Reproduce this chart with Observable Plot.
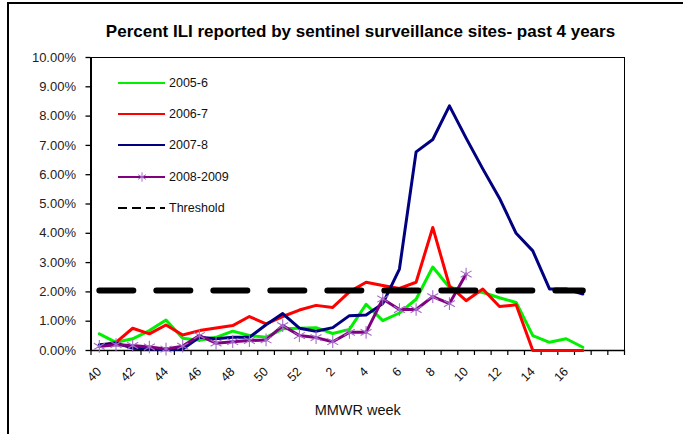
<!DOCTYPE html>
<html>
<head>
<meta charset="utf-8">
<script src="https://cdn.jsdelivr.net/npm/d3@7"></script>
<script src="https://cdn.jsdelivr.net/npm/@observablehq/plot@0.6"></script>
<style>
  html, body { margin: 0; padding: 0; background: #fff; }
  #wrap { position: relative; width: 683px; height: 434px; overflow: hidden; font-family: "Liberation Sans", Arial, sans-serif; }
  #border { position: absolute; left: 7px; top: 2px; width: 720px; height: 480px; border-left: 2px solid #000; border-top: 2px solid #000; }
  #title { position: absolute; left: 0; width: 721px; top: 22px; text-align: center; font-weight: bold; font-size: 17px; color: #000; }
  #chart { position: absolute; left: 0; top: 0; }
  #legend { position: absolute; left: 0; top: 0; }
</style>
</head>
<body>
<div id="wrap">
  <div id="border"></div>
  <div id="chart"></div>
  <div id="title">Percent ILI reported by sentinel surveillance sites- past 4 years</div>
  <div id="legend"></div>
</div>
<script>
// MMWR week categories (axis)
const weeks = ["40","41","42","43","44","45","46","47","48","49","50","51","52",
               "1","2","3","4","5","6","7","8","9","10","11","12","13","14","15","16","17","18","19"];
// Tick labels shown on the axis
const tickLabels = ["40","42","44","46","48","50","52","2","4","6","8","10","12","14","16"];
const yTicks = [0,1,2,3,4,5,6,7,8,9,10];

// Series values (percent ILI), starting at week 40
const s2005 = [0.57,0.28,0.40,0.68,1.04,0.42,0.35,0.45,0.66,0.51,0.45,0.74,0.76,
               0.78,0.58,0.72,1.58,1.02,1.28,1.75,2.85,2.15,2.06,1.98,1.80,1.64,0.51,0.28,0.40,0.11];
const s2006 = [0.15,0.28,0.76,0.57,0.87,0.53,0.68,0.77,0.85,1.16,0.91,1.16,1.38,
               1.54,1.47,2.00,2.33,2.22,2.12,2.33,4.20,2.21,1.70,2.10,1.50,1.56,0.00,0.00,0.00,0.00];
const s2007 = [0.20,0.25,0.08,0.05,0.03,0.05,0.45,0.40,0.45,0.45,0.88,1.26,0.76,
               0.66,0.78,1.19,1.21,1.60,2.78,6.78,7.20,8.35,7.25,6.20,5.20,4.00,3.40,2.10,2.10,1.93];
const s2008 = [0.14,0.20,0.17,0.12,0.05,0.15,0.51,0.25,0.30,0.34,0.36,0.85,0.51,
               0.44,0.30,0.62,0.62,1.76,1.40,1.40,1.84,1.60,2.61];
const threshold = [2.05,2.05,2.05,2.05,2.05,2.05,2.05,2.05,2.05,2.05,2.05,2.05,2.05,
                   2.05,2.05,2.05,2.05,2.05,2.05,2.05,2.05,2.05,2.05,2.05,2.05,2.05,2.05,2.05,2.05,2.05];

const seriesNames = ["2005-6","2006-7","2007-8","2008-2009","Threshold"];
const colors = {"2005-6":"#00f000","2006-7":"#ff0000","2007-8":"#000080","2008-2009":"#800080","Threshold":"#000"};
const markerColor = "#a46cc8";

const rows = (vals) => vals.map((v, i) => ({week: weeks[i], v}));

const W = 683, H = 434;
const mL = 90.5, mR = 59, mT = 57, mB = 84;
const step = (W - mL - mR) / weeks.length;

const chart = Plot.plot({
  width: W, height: H,
  marginTop: mT, marginBottom: mB, marginLeft: mL, marginRight: mR,
  style: {fontFamily: "'Liberation Sans', Arial, sans-serif", background: "transparent", color: "#000", overflow: "visible"},
  x: {type: "point", domain: weeks, padding: 0.5, round: false},
  y: {domain: [0, 10]},
  marks: [
    Plot.frame({stroke: "#000", strokeWidth: 1}),
    Plot.axisY({ticks: yTicks, tickFormat: d => d.toFixed(2) + "%", tickSize: 5, tickPadding: 10, fontSize: 13, label: null, stroke: "#000", strokeWidth: 1.3, fill: "#222"}),
    Plot.axisX({ticks: weeks, tickSize: 5, text: null, dx: -step / 2, label: null, strokeWidth: 1.2}),
    Plot.axisX({ticks: ["19"], tickSize: 5, text: null, dx: step / 2, label: null, strokeWidth: 1.2}),
    Plot.axisX({ticks: tickLabels, tickSize: 0, tickRotate: -45, tickPadding: 19, fontSize: 12.5, fill: "#111",
                label: "MMWR week", labelAnchor: "center", labelOffset: 64}),
    Plot.ruleX([weeks[0]], {dx: -step / 2, stroke: "#000", strokeWidth: 2}),
    Plot.ruleY([0], {stroke: "#000", strokeWidth: 1.5}),
    Plot.line(rows(s2005), {x: "week", y: "v", stroke: colors["2005-6"], strokeWidth: 3}),
    Plot.line(rows(s2006), {x: "week", y: "v", stroke: colors["2006-7"], strokeWidth: 3}),
    Plot.line(rows(s2007), {x: "week", y: "v", stroke: colors["2007-8"], strokeWidth: 3}),
    Plot.line(rows(s2008), {x: "week", y: "v", stroke: colors["2008-2009"], strokeWidth: 3}),
    Plot.dot(rows(s2008), {x: "week", y: "v", symbol: "asterisk", r: 6, stroke: markerColor, strokeWidth: 1.1}),
    Plot.line(rows(threshold), {x: "week", y: "v", stroke: "#000", strokeWidth: 6, strokeDasharray: "34,23", strokeLinecap: "round"})
  ]
});
chart.querySelectorAll("g[aria-label='x-axis label']").forEach(e => { e.setAttribute("font-size", "14.5"); });
document.getElementById("chart").appendChild(chart);

// Legend
const lg = d3.select("#legend").append("svg").attr("width", 300).attr("height", 240)
  .style("font-family", "'Liberation Sans', Arial, sans-serif");
const ly = [83, 114, 145, 177, 208];
seriesNames.forEach((name, i) => {
  const g = lg.append("g");
  const line = g.append("line").attr("x1", 118).attr("x2", 165).attr("y1", ly[i]).attr("y2", ly[i])
    .attr("stroke", colors[name]).attr("stroke-width", 2);
  if (name === "Threshold") line.attr("stroke-dasharray", "9,5").attr("stroke-width", 2.2);
  if (name === "2008-2009") {
    g.append("path").attr("d", d3.symbol(d3.symbolAsterisk, 60)()).attr("transform", `translate(142,${ly[i]})`)
      .attr("stroke", markerColor).attr("fill", "none").attr("stroke-width", 1);
  }
  g.append("text").attr("x", 169).attr("y", ly[i]).attr("dy", "0.35em").attr("font-size", 12.5).attr("fill", "#111").text(name);
});
</script>
</body>
</html>
